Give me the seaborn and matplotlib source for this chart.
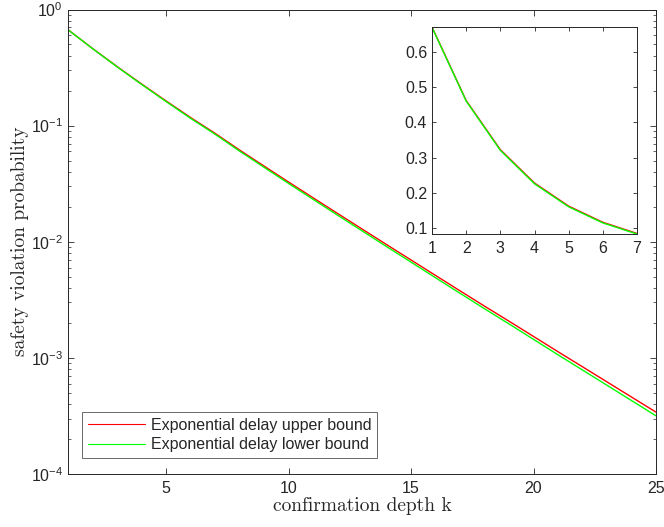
import numpy as np
import pandas as pd
import matplotlib
matplotlib.use("Agg")
import matplotlib.pyplot as plt
import seaborn as sns

depth = list(range(1, 26))
upper = [0.670, 0.462, 0.323, 0.2286, 0.1633, 0.1175, 0.0859, 0.0617, 0.0449, 0.0327,
         0.02393, 0.01754, 0.01288, 0.00946, 0.00697, 0.00513, 0.00378, 0.00279, 0.00207,
         0.00153, 0.00113, 0.000838, 0.000621, 0.000460, 0.000341]
lower = [0.669, 0.4606, 0.3210, 0.2265, 0.1613, 0.1157, 0.0844, 0.0604, 0.0438, 0.0318,
         0.02321, 0.01696, 0.01242, 0.00909, 0.00668, 0.00490, 0.00360, 0.00265, 0.00196,
         0.001444, 0.001063, 0.000786, 0.000581, 0.000429, 0.000317]
labels = ["Exponential delay upper bound", "Exponential delay lower bound"]
inset_n = 7
main_xticks = [5, 10, 15, 20, 25]
main_yticks = [1e-4, 1e-3, 1e-2, 1e-1, 1e0]
inset_xticks = [1, 2, 3, 4, 5, 6, 7]
inset_yticks = [0.1, 0.2, 0.3, 0.4, 0.5, 0.6]

sns.set_style("ticks")
plt.rcParams["font.family"] = ["Liberation Sans", "DejaVu Sans"]
plt.rcParams["mathtext.default"] = "regular"
plt.rcParams["axes.edgecolor"] = "0.15"
plt.rcParams["axes.linewidth"] = 0.7

df = pd.DataFrame({
    "k": depth * 2,
    "p": upper + lower,
    "series": [labels[0]] * len(depth) + [labels[1]] * len(depth),
})
palette = {labels[0]: "#ff0000", labels[1]: "#00ff00"}

fig = plt.figure(figsize=(6.64, 5.27), dpi=100)
ax = fig.add_axes([68 / 664, 53 / 527, 588 / 664, 464.5 / 527])
sns.lineplot(data=df, x="k", y="p", hue="series", palette=palette, ax=ax,
             linewidth=1.0, legend=True)
ax.set_yscale("log")
ax.set_xlim(1, 25)
ax.set_ylim(1e-4, 1e0)
ax.set_xticks(main_xticks)
ax.set_yticks(main_yticks)
ax.tick_params(which="both", direction="in", top=True, right=True,
               labelsize=11.5, colors="0.15", labelcolor="#262626")
ax.tick_params(axis="x", which="major", pad=5)
ax.tick_params(which="major", length=4, width=0.6)
ax.tick_params(which="minor", length=2.5, width=0.5)
ax.set_xlabel("confirmation depth k", fontfamily="cmr10", fontsize=14, labelpad=1)
ax.set_ylabel("safety violation probability", fontfamily="cmr10", fontsize=14, labelpad=1)

leg = ax.legend(loc="lower left", bbox_to_anchor=(14 / 588, 16 / 464.5),
                frameon=True, fancybox=False, fontsize=11.5, handlelength=3.6,
                handletextpad=0.35, borderpad=0.35, labelspacing=0.3,
                borderaxespad=0)
leg.get_frame().set_edgecolor("0.15")
leg.get_frame().set_linewidth(0.6)
for h in leg.get_lines():
    h.set_linewidth(0.8)

dfi = df[df["k"] <= inset_n]
axi = fig.add_axes([432 / 664, (527 - 234) / 527, 205 / 664, 207 / 527])
sns.lineplot(data=dfi, x="k", y="p", hue="series", palette=palette, ax=axi,
             linewidth=1.0, legend=False)
axi.set_xlim(1, inset_n)
axi.set_ylim(min(lower[:inset_n]), max(upper[:inset_n]))
axi.set_xticks(inset_xticks)
axi.set_yticks(inset_yticks)
axi.set_yticklabels([f"{v:.1f}" for v in inset_yticks])
axi.tick_params(which="both", direction="in", top=True, right=True,
                labelsize=11.5, length=3, width=0.6, colors="0.15", labelcolor="#262626")
axi.tick_params(axis="x", pad=5)
axi.set_xlabel("")
axi.set_ylabel("")

fig.savefig("out.png", dpi=100)
